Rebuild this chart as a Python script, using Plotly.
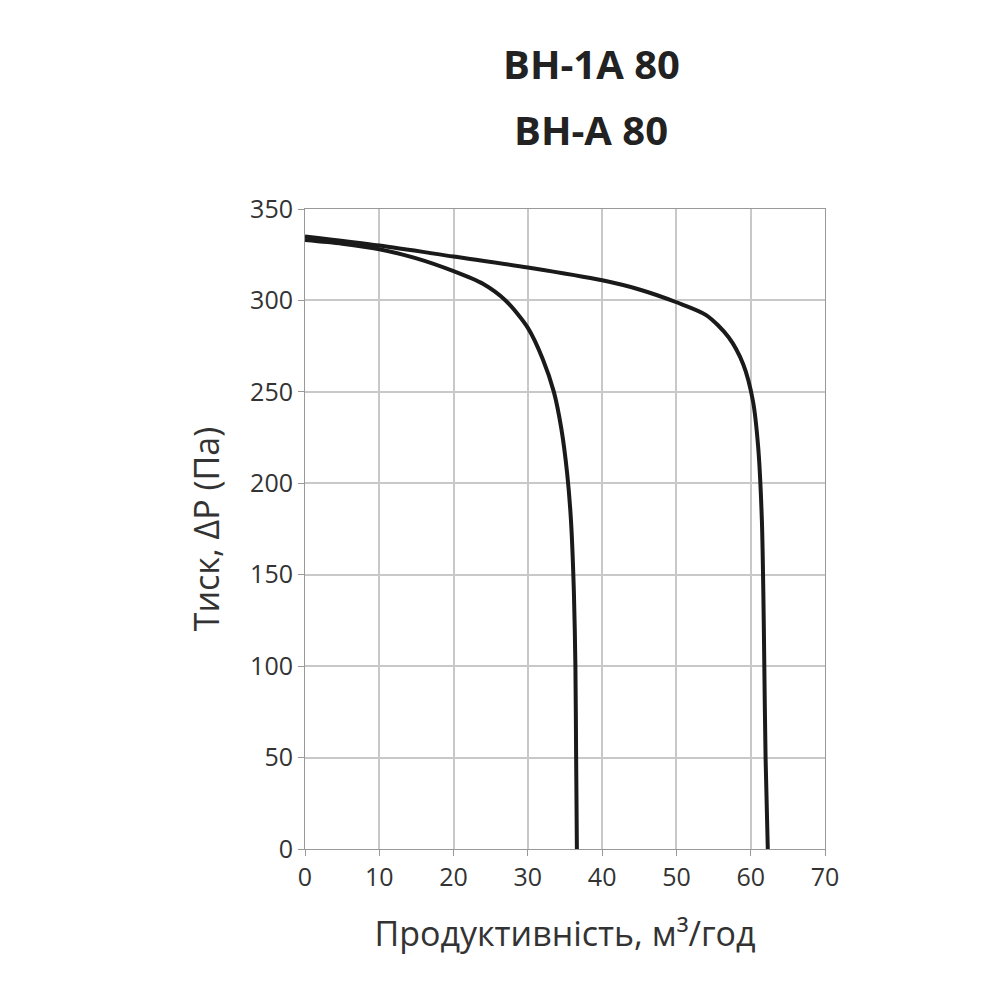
import plotly.graph_objects as go

x1 = [0, 5, 10, 15, 20, 24, 27, 30, 32, 33.5, 34.5, 35.3, 35.8, 36.2, 36.4, 36.5, 36.6]
y1 = [333, 331, 328, 323, 316, 309, 300, 285, 268, 250, 230, 205, 180, 140, 100, 50, 0]
x2 = [0, 10, 20, 30, 40, 45, 50, 54, 57, 59, 60.3, 61, 61.5, 61.7, 61.8, 62.0, 62.3]
y2 = [335, 330, 324, 318, 311, 306, 299, 292, 280, 265, 245, 220, 180, 140, 110, 50, 0]
xticks = [0, 10, 20, 30, 40, 50, 60, 70]
yticks = [0, 50, 100, 150, 200, 250, 300, 350]
title_lines = ["ВН-1А 80", "ВН-А 80"]

fig = go.Figure()
for xs, ys in [(x1, y1), (x2, y2)]:
    fig.add_trace(go.Scatter(x=xs, y=ys, mode="lines", line=dict(color="#1a1a1a", width=4, shape="spline", smoothing=0.8), showlegend=False))

for t, yy in zip(title_lines, [1.228, 1.125]):
    fig.add_annotation(text="<b>%s</b>" % t, xref="paper", yref="paper", x=0.55, y=yy,
                       xanchor="center", yanchor="middle", showarrow=False,
                       font=dict(size=40, color="#222", family="Open Sans"))

fig.update_layout(
    width=1000, height=1000, plot_bgcolor="white", paper_bgcolor="white",
    margin=dict(l=297, r=183, t=201, b=159),
    font=dict(family="Open Sans", color="#333"),
)
fig.update_xaxes(range=[0, 70], tickvals=xticks, showgrid=True, gridcolor="#c8c8c8", gridwidth=1.5,
                 showline=True, linecolor="#999", mirror=True, ticks="outside", ticklen=6, tickcolor="#999",
                 tickfont=dict(size=25), zeroline=False,
                 title=dict(text="Продуктивність, м³/год", font=dict(size=34), standoff=30))
fig.update_yaxes(range=[0, 350], tickvals=yticks, showgrid=True, gridcolor="#c8c8c8", gridwidth=1.5,
                 showline=True, linecolor="#999", mirror=True, ticks="outside", ticklen=6, tickcolor="#999",
                 tickfont=dict(size=25), zeroline=False,
                 title=dict(text="Тиск, ΔР (Па)", font=dict(size=34), standoff=20))
fig.write_html("out.html")
